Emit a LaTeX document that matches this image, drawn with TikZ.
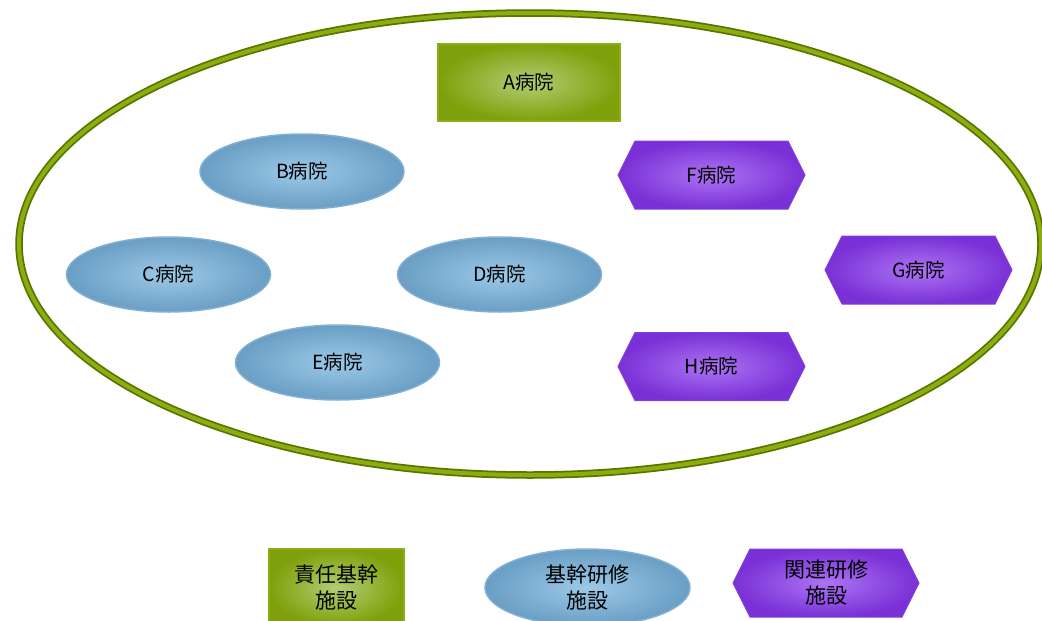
\documentclass[tikz,border=0pt]{standalone}
\usepackage{fontspec}
\newfontfamily\cjk{Noto Sans CJK JP}
\usetikzlibrary{shapes.geometric,shapes.symbols}
\definecolor{gOut}{HTML}{7FA00A}
\definecolor{gIn}{HTML}{B2CE74}
\definecolor{gLine}{HTML}{8CAE14}
\definecolor{bOut}{HTML}{6A9EC4}
\definecolor{bIn}{HTML}{9CC9E8}
\definecolor{bLine}{HTML}{82B0D2}
\definecolor{pOut}{HTML}{7A30D6}
\definecolor{pIn}{HTML}{AC74F4}
\definecolor{pLine}{HTML}{8040DC}
\definecolor{ringDark}{HTML}{5A7400}
\definecolor{ringLight}{HTML}{8AAE10}
\tikzset{
  base/.style={font=\cjk\fontsize{19.5}{24}\selectfont, text=black, align=center, inner sep=0pt},
  legtext/.style={font=\cjk\fontsize{21}{26}\selectfont},
  resp/.style={base, rectangle, draw=gLine, line width=1.5pt, inner color=gIn, outer color=gOut, minimum width=182pt, minimum height=77pt},
  core/.style={base, ellipse, draw=bLine, line width=1.5pt, inner color=bIn, outer color=bOut, minimum width=204pt, minimum height=75pt},
  rel/.style={base, signal, signal to=west and east, signal pointer angle=127, draw=pLine, line width=1pt, inner color=pIn, outer color=pOut, minimum width=187pt, minimum height=68pt}
}
\begin{document}
\begin{tikzpicture}[x=1pt,y=-1pt]
\useasboundingbox (0,0) rectangle (1042,621);
% outer ring
\draw[ringDark, line width=7.5pt] (530,244) ellipse [x radius=511, y radius=231];
\draw[ringLight, line width=4pt] (530,244) ellipse [x radius=511, y radius=231];
% hospitals
\node[resp] (A) at (529,82.5) {A病院};
\node[core] (B) at (302,171.5) {B病院};
\node[core] (C) at (168.5,274.5) {C病院};
\node[core] (D) at (499.5,274.5) {D病院};
\node[core] (E) at (337.5,362.5) {E病院};
\node[rel] (F) at (711.5,175) {F病院};
\node[rel] (G) at (918.5,270) {G病院};
\node[rel] (H) at (711.5,366.5) {H病院};
% legend
\node[resp, legtext, minimum width=135pt, minimum height=77pt] (L1) at (336.5,587.5) {責任基幹\\施設};
\node[core, legtext, minimum width=205pt, minimum height=77pt] (L2) at (587.5,587.5) {基幹研修\\施設};
\node[rel, legtext, minimum width=186pt, minimum height=68pt] (L3) at (826,583) {関連研修\\施設};
\end{tikzpicture}
\end{document}
